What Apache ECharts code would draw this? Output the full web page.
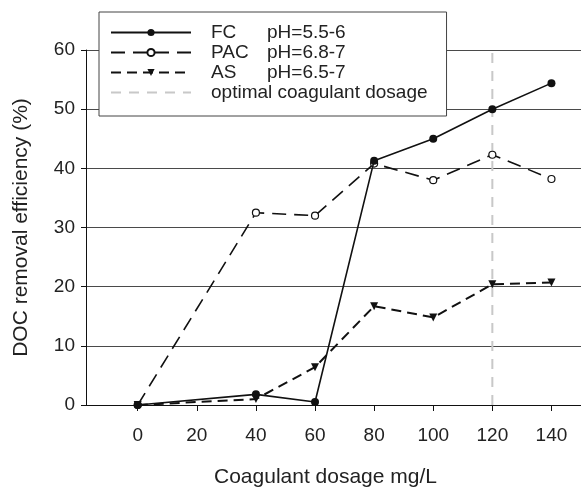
<!DOCTYPE html>
<html>
<head>
<meta charset="utf-8">
<script src="https://cdn.jsdelivr.net/npm/echarts@6/dist/echarts.min.js"></script>
<style>
  html, body { margin: 0; padding: 0; background: #fff; }
  #chart { width: 581px; height: 487px; }
</style>
</head>
<body>
<div id="chart"></div>
<script>
// dosage (mg/L)
var dosage = [0, 40, 60, 80, 100, 120, 140];
var xTicks = [0, 20, 40, 60, 80, 100, 120, 140];
// DOC removal efficiency (%)
var fcValues = [0, 1.8, 0.5, 41.3, 45.0, 50.0, 54.4];
var pacValues = [0, 32.5, 32.0, 40.8, 38.0, 42.3, 38.2];
var asValues = [0, 1.0, 6.4, 16.7, 14.8, 20.4, 20.7];
var optimalDose = 120;
// legend text, 2 columns
var legendNames = ['FC', 'PAC', 'AS', 'optimal coagulant dosage'];
var legendPh = ['pH=5.5-6', 'pH=6.8-7', 'pH=6.5-7', ''];

function pairs(vals) {
  return dosage.map(function (d, i) { return [d, vals[i]]; });
}

var font = 'Liberation Sans, Arial, sans-serif';
var txt = '#222';
var chart = echarts.init(document.getElementById('chart'));

var option = {
  animation: false,
  textStyle: { fontFamily: font },
  grid: { left: 86, right: 0, top: 50, bottom: 82, containLabel: false, outerBoundsMode: 'none' },
  legend: {
    left: 99,
    top: 12,
    orient: 'vertical',
    backgroundColor: '#fff',
    borderColor: '#444',
    borderWidth: 1,
    borderRadius: 0,
    padding: [11, 19, 14, 11],
    itemWidth: 80,
    itemHeight: 9,
    itemGap: 1,
    data: [
      { name: 'FC' },
      { name: 'PAC' },
      { name: 'AS' },
      { name: 'optimal coagulant dosage', itemStyle: { opacity: 0 } }
    ],
    formatter: function (name) {
      var i = legendNames.indexOf(name);
      if (!legendPh[i]) return '{c|' + name + '}';
      return '{a|' + name + '}{b|' + legendPh[i] + '}';
    },
    textStyle: {
      fontFamily: font,
      fontSize: 19,
      color: txt,
      padding: [0, 0, 0, 15],
      rich: {
        a: { fontFamily: font, fontSize: 19, color: txt, width: 56, lineHeight: 20 },
        b: { fontFamily: font, fontSize: 19, color: txt, lineHeight: 20 },
        c: { fontFamily: font, fontSize: 19, color: txt, lineHeight: 20 }
      }
    }
  },
  xAxis: {
    type: 'value',
    min: -17.5,
    max: 150,
    name: 'Coagulant dosage mg/L',
    nameLocation: 'middle',
    nameGap: 62,
    nameTextStyle: { fontFamily: font, fontSize: 21, color: txt, padding: [0, 16, 0, 0] },
    axisLine: { onZero: false, lineStyle: { color: '#111', width: 1 } },
    axisTick: { show: true, length: 6, inside: false, customValues: xTicks, lineStyle: { color: '#111' } },
    axisLabel: { customValues: xTicks, margin: 21, fontSize: 19, color: txt, fontFamily: font },
    splitLine: { show: false }
  },
  yAxis: {
    type: 'value',
    min: 0,
    max: 60,
    interval: 10,
    name: 'DOC removal efficiency (%)',
    nameLocation: 'middle',
    nameGap: 54,
    nameTextStyle: { fontFamily: font, fontSize: 21, color: txt },
    axisLine: { show: true, onZero: false, lineStyle: { color: '#111', width: 1 } },
    axisTick: { show: true, length: 5, lineStyle: { color: '#111' } },
    axisLabel: { margin: 11, fontSize: 19, color: txt, fontFamily: font },
    splitLine: { show: true, lineStyle: { color: '#4a4a4a', width: 1 } }
  },
  series: [
    {
      name: 'FC',
      type: 'line',
      data: pairs(fcValues),
      symbol: 'circle',
      symbolSize: 8,
      itemStyle: { color: '#111' },
      lineStyle: { color: '#111', width: 1.6 },
      z: 5
    },
    {
      name: 'PAC',
      type: 'line',
      data: pairs(pacValues),
      symbol: 'circle',
      symbolSize: 7,
      itemStyle: { color: '#fff', borderColor: '#111', borderWidth: 1.2 },
      lineStyle: { color: '#111', width: 1.6, type: [14, 8] },
      z: 4
    },
    {
      name: 'AS',
      type: 'line',
      data: pairs(asValues),
      symbol: 'triangle',
      symbolRotate: 180,
      symbolSize: 8,
      itemStyle: { color: '#111' },
      lineStyle: { color: '#111', width: 2, type: [10, 6] },
      z: 4
    },
    {
      name: 'optimal coagulant dosage',
      type: 'line',
      data: [[optimalDose, 0], [optimalDose, 60]],
      symbol: 'none',
      itemStyle: { color: '#c8c8c8' },
      lineStyle: { color: '#c8c8c8', width: 2, type: [10, 8] },
      z: 3
    }
  ]
};
chart.setOption(option);
</script>
</body>
</html>
